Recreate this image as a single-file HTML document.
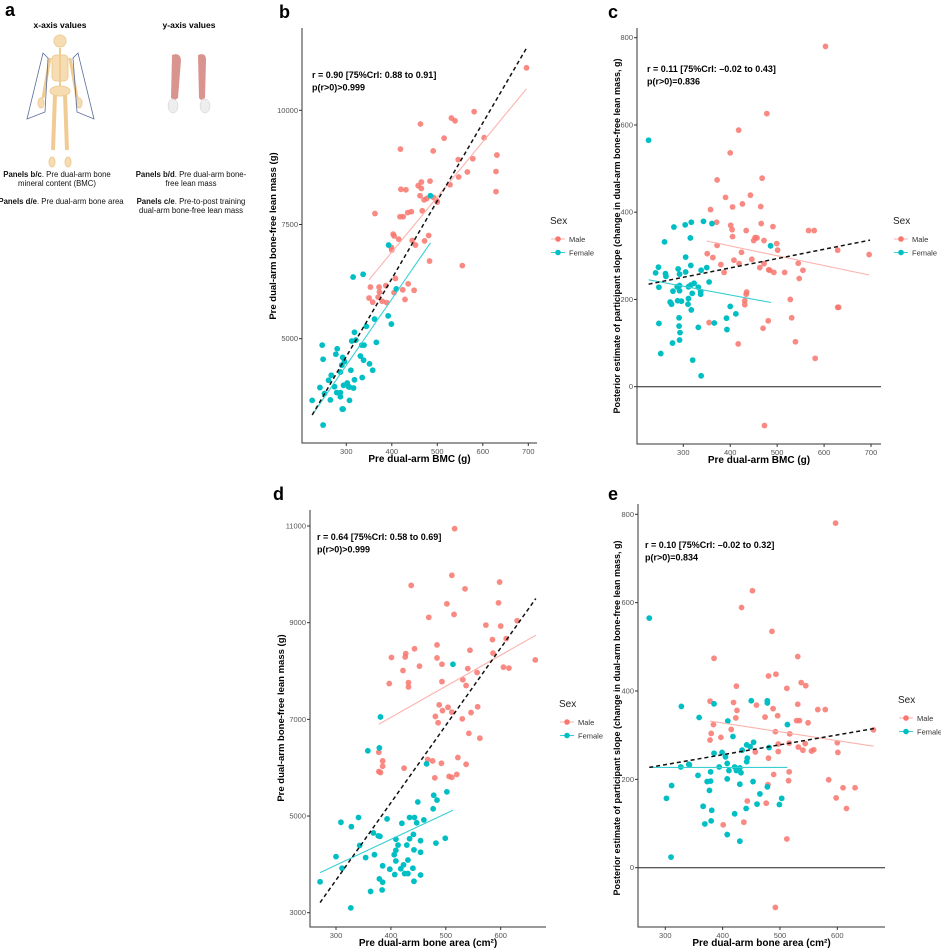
<!DOCTYPE html>
<html><head><meta charset="utf-8"><style>
body{margin:0;background:#fff;}
svg{display:block;font-family:"Liberation Sans",sans-serif;}
</style></head><body>
<svg id="fig" width="941" height="949" viewBox="0 0 941 949" xmlns="http://www.w3.org/2000/svg">
<g>
<text x="5" y="16" font-size="18" font-weight="bold">a</text>
<text x="60" y="28" font-size="8.5" font-weight="bold" text-anchor="middle">x-axis values</text>
<text x="189" y="28" font-size="8.5" font-weight="bold" text-anchor="middle">y-axis values</text>
<g stroke="#f0cc94" fill="#f5dcb2">
<circle cx="60" cy="41" r="6"/>
<rect x="52" y="55" width="16" height="26" rx="4"/>
<line x1="60" y1="48" x2="60" y2="90" stroke-width="2"/>
<ellipse cx="60" cy="91" rx="10" ry="5"/>
<line x1="50" y1="58" x2="43" y2="98" stroke-width="3"/>
<line x1="70" y1="58" x2="77" y2="98" stroke-width="3"/>
<line x1="55" y1="95" x2="53" y2="150" stroke-width="4"/>
<line x1="65" y1="95" x2="67" y2="150" stroke-width="4"/>
<ellipse cx="41" cy="103" rx="3" ry="5"/><ellipse cx="79" cy="103" rx="3" ry="5"/>
<ellipse cx="52" cy="162" rx="3" ry="5"/><ellipse cx="68" cy="162" rx="3" ry="5"/>
</g>
<polygon points="43,53 48,58 45,112 27,119" fill="none" stroke="#5b6c9a" stroke-width="0.8"/>
<polygon points="78,53 73,58 77,112 94,119" fill="none" stroke="#5b6c9a" stroke-width="0.8"/>
<g>
<path d="M172,55 Q180,52 181,60 L178,98 L175,100 L171,98 Z" fill="#d9948f"/>
<path d="M198,55 Q206,52 206,60 L205,98 L201,100 L199,98 Z" fill="#d9948f"/>
<ellipse cx="173" cy="106" rx="5" ry="7" fill="#eeeeee" stroke="#cccccc" stroke-width="0.5"/>
<ellipse cx="205" cy="106" rx="5" ry="7" fill="#eeeeee" stroke="#cccccc" stroke-width="0.5"/>
</g>
<g font-size="7.8" fill="#111" text-anchor="middle">
<text x="57" y="177"><tspan font-weight="bold">Panels b/c</tspan>. Pre dual-arm bone</text>
<text x="57" y="186">mineral content (BMC)</text>
<text x="61" y="204"><tspan font-weight="bold">Panels d/e</tspan>. Pre dual-arm bone area</text>
<text x="191" y="177"><tspan font-weight="bold">Panels b/d</tspan>. Pre dual-arm bone-</text>
<text x="191" y="186">free lean mass</text>
<text x="191" y="204"><tspan font-weight="bold">Panels c/e</tspan>. Pre-to-post training</text>
<text x="191" y="213">dual-arm bone-free lean mass</text>
</g>
</g>
</svg>
<script>
// ---------- Panel b data ----------
const bMale=[[696,10930],[581,9970],[531,9830],[539,9770],[463,9700],[515,9390],[603,9400],[419,9150],[491,9110],[546,8920],[578,8940],[631,9020],[566,8650],[547,8540],[629,8660],[629,8220],[528,8370],[420,8270],[431,8260],[458,8350],[465,8430],[484,8450],[465,8290],[462,8130],[471,8040],[477,8070],[492,8090],[500,7990],[499,8020],[363,7740],[418,7670],[425,7670],[435,7760],[443,7780],[467,7800],[403,7290],[405,7250],[415,7180],[445,7150],[452,7050],[472,7140],[481,7260],[399,7000],[400,6940],[483,6700],[555,6600],[408,6320],[353,6130],[372,6130],[387,6160],[436,6200],[373,6020],[405,6010],[424,6070],[449,6060],[350,5890],[370,5910],[358,5800],[379,5820],[389,5790],[429,5860]];
const bFemale=[[485,8130],[393,7050],[337,6410],[315,6350],[410,6090],[362,5430],[392,5500],[399,5320],[344,5270],[318,5140],[247,4860],[280,4780],[312,4950],[321,4970],[366,4920],[334,4860],[339,4860],[277,4660],[249,4550],[292,4590],[331,4620],[338,4530],[296,4500],[351,4450],[290,4420],[287,4270],[310,4310],[358,4310],[261,4090],[267,4200],[318,4100],[335,4150],[242,3930],[274,3950],[294,3980],[305,3950],[316,3920],[307,3940],[302,4030],[252,3800],[279,3820],[287,3820],[265,3660],[287,3730],[307,3650],[225,3650],[293,3460],[291,3460],[249,3110]];
const bMaleFit=[[350,6290],[696,10470]];
const bFemaleFit=[[225,3330],[485,7100]];
const bOverallFit=[[225,3330],[696,11360]];
const bXTicks=[300,400,500,600,700];
const bYTicks=[5000,7500,10000];
// ---------- Panel c data ----------
const cMale=[[603,780],[478,626],[418,588],[400,536],[468,478],[372,474],[390,434],[443,439],[426,419],[405,412],[465,413],[358,406],[371,377],[466,374],[401,370],[404,360],[434,358],[491,367],[567,358],[579,358],[405,344],[453,342],[457,341],[450,335],[472,335],[499,328],[372,324],[501,313],[629,313],[696,303],[351,305],[363,296],[408,290],[424,308],[446,292],[380,280],[419,282],[472,282],[545,283],[463,273],[482,268],[484,267],[555,267],[516,262],[387,262],[493,262],[547,248],[434,212],[435,217],[431,197],[431,188],[528,200],[629,182],[631,182],[531,158],[355,147],[481,151],[470,134],[539,103],[417,98],[581,65],[473,-89]];
const cFemale=[[226,565],[317,377],[343,379],[361,374],[304,371],[280,366],[260,332],[315,341],[486,323],[305,297],[316,278],[289,270],[350,273],[338,267],[247,274],[241,261],[262,259],[263,253],[292,258],[305,263],[355,240],[323,237],[316,233],[287,229],[292,232],[311,229],[332,228],[248,228],[292,220],[337,218],[278,219],[337,212],[319,214],[272,194],[275,189],[288,197],[296,196],[310,189],[311,202],[317,176],[400,184],[412,167],[392,157],[291,158],[248,145],[366,146],[291,139],[293,124],[332,136],[393,131],[277,100],[292,107],[252,76],[320,61],[338,25]];
const cMaleFit=[[350,334],[696,256]];
const cFemaleFit=[[226,245],[487,193]];
const cOverallFit=[[226,235],[698,336]];
const cXTicks=[300,400,500,600,700];
const cYTicks=[0,200,400,600,800];
// ---------- Panel d data ----------
const dMale=[[516,10945],[511,9980],[598,9840],[437,9770],[535,9700],[502,9390],[596,9410],[515,9170],[469,9110],[573,8950],[600,8930],[630,9040],[443,8460],[484,8540],[544,8430],[585,8650],[610,8670],[586,8370],[401,8280],[427,8360],[426,8290],[484,8270],[493,8140],[452,8100],[422,8010],[540,8050],[557,7970],[605,8080],[615,8060],[663,8230],[397,7740],[432,7760],[432,7670],[493,7780],[531,7820],[537,7700],[488,7300],[504,7250],[494,7180],[511,7150],[558,7260],[546,7140],[481,7060],[486,6930],[530,7010],[542,6710],[562,6610],[378,6320],[385,6140],[385,6030],[378,5920],[381,5900],[424,5990],[467,6170],[476,6140],[492,6090],[522,6210],[537,6070],[480,5790],[506,5820],[511,5800],[520,5860]];
const dFemale=[[513,8140],[381,7050],[358,6350],[379,6410],[465,6080],[478,5430],[502,5500],[484,5330],[449,5290],[477,5150],[341,4970],[393,4940],[434,4970],[443,4970],[460,4920],[420,4850],[447,4860],[309,4870],[328,4780],[368,4650],[377,4590],[380,4580],[409,4520],[434,4530],[441,4620],[499,4540],[482,4440],[343,4390],[413,4400],[429,4400],[454,4490],[409,4290],[442,4300],[454,4250],[300,4160],[354,4140],[370,4200],[406,4200],[431,4090],[311,3920],[385,3970],[409,4070],[423,3990],[398,3900],[418,3910],[440,3920],[407,3790],[425,3810],[431,3810],[454,3780],[379,3700],[385,3630],[442,3650],[271,3640],[363,3440],[384,3470],[327,3100]];
const dMaleFit=[[378,6900],[664,8740]];
const dFemaleFit=[[271,3830],[513,5120]];
const dOverallFit=[[271,3210],[664,9500]];
const dXTicks=[300,400,500,600];
const dYTicks=[3000,5000,7000,9000,11000];
// ---------- Panel e data ----------
const eMale=[[597,780],[452,627],[433,589],[486,535],[531,478],[385,474],[480,434],[493,438],[537,419],[545,412],[424,411],[512,406],[378,377],[419,374],[459,368],[425,356],[488,360],[531,370],[566,358],[579,358],[496,344],[474,341],[423,339],[529,333],[534,333],[549,328],[384,324],[415,313],[380,304],[492,308],[517,303],[663,312],[378,289],[397,295],[600,283],[497,280],[516,282],[544,281],[532,273],[540,266],[555,264],[559,267],[601,261],[457,262],[497,263],[480,248],[489,211],[516,217],[515,197],[479,188],[585,199],[610,181],[631,181],[598,158],[616,134],[443,151],[476,146],[437,103],[401,97],[512,65],[492,-90]];
const eFemale=[[272,565],[328,365],[359,340],[450,378],[478,378],[478,373],[385,371],[409,332],[513,324],[418,297],[454,284],[442,278],[434,266],[448,274],[481,272],[385,259],[399,261],[405,251],[443,248],[442,240],[408,236],[342,233],[341,234],[327,228],[394,228],[421,228],[430,226],[411,220],[424,220],[432,215],[379,217],[357,209],[373,195],[379,196],[453,195],[408,201],[377,175],[430,189],[478,183],[311,186],[302,157],[465,167],[503,157],[366,139],[381,130],[421,122],[441,134],[460,144],[499,143],[369,99],[380,106],[408,75],[430,60],[310,24]];
const eMaleFit=[[378,332],[663,275]];
const eFemaleFit=[[272,227],[513,227]];
const eOverallFit=[[272,227],[664,315]];
const eXTicks=[300,400,500,600];
const eYTicks=[0,200,400,600,800];

const NS='http://www.w3.org/2000/svg';
const svg=document.getElementById('fig');
function mk(tag,attrs,parent){const e=document.createElementNS(NS,tag);for(const k in attrs)e.setAttribute(k,attrs[k]);(parent||svg).appendChild(e);return e;}

function panel(cfg){
  const g=mk('g',{});
  
  
  const sx=v=>cfg.x0p+(v-cfg.x0)*(cfg.x1p-cfg.x0p)/(cfg.x1-cfg.x0);
  const sy=v=>cfg.y0p+(v-cfg.y0)*(cfg.y1p-cfg.y0p)/(cfg.y1-cfg.y0);
  const lab=mk('text',{x:cfg.labX,y:cfg.labY,'font-size':18,'font-weight':'bold'},g);lab.textContent=cfg.id;
  
  
  if(cfg.zero){const z=mk('line',{x1:cfg.L,x2:cfg.R,y1:sy(0),y2:sy(0),stroke:'#222','stroke-width':1},g);
    
    }
  const ax=mk('path',{d:`M${cfg.L},${cfg.T}V${cfg.B}H${cfg.R}`,fill:'none',stroke:'#333','stroke-width':1},g);
  
  
  cfg.xt.forEach(v=>{mk('line',{x1:sx(v),x2:sx(v),y1:cfg.B,y2:cfg.B+3,stroke:'#333'},g);
    const t=mk('text',{x:sx(v),y:cfg.B+11,'font-size':7.5,fill:'#555','text-anchor':'middle'},g);t.textContent=v;
    
    });
  cfg.yt.forEach(v=>{mk('line',{x1:cfg.L-3,x2:cfg.L,y1:sy(v),y2:sy(v),stroke:'#333'},g);
    const t=mk('text',{x:cfg.L-4,y:sy(v)+2.5,'font-size':7.5,fill:'#555','text-anchor':'end'},g);t.textContent=v;
    
    });
  cfg.male.forEach(p=>{const c=mk('circle',{cx:sx(p[0]),cy:sy(p[1]),r:2.9,fill:'#F8766D','fill-opacity':0.85},g);
    
    });
  cfg.female.forEach(p=>{const c=mk('circle',{cx:sx(p[0]),cy:sy(p[1]),r:2.9,fill:'#00BFC4'},g);
    
    });
  const fl=(f,col,dash,w,name)=>{const l=mk('line',{x1:sx(f[0][0]),y1:sy(f[0][1]),x2:sx(f[1][0]),y2:sy(f[1][1]),stroke:col,'stroke-width':w},g);
    if(dash)l.setAttribute('stroke-dasharray',dash);
    
    };
  fl(cfg.mf,'#FBB3AD',null,1.1,'male-fit-line');
  fl(cfg.ff,'#3ACFD3',null,1.1,'female-fit-line');
  fl(cfg.of,'#111','4,3',1.5,'overall-fit-line');
  const a1=mk('text',{x:cfg.annX,y:cfg.annY,'font-size':9,'font-weight':'bold'},g);a1.textContent=cfg.ann1;
  
  
  const a2=mk('text',{x:cfg.annX,y:cfg.annY+12.5,'font-size':9,'font-weight':'bold'},g);a2.textContent=cfg.ann2;
  
  
  const xt=mk('text',{x:(cfg.L+cfg.R)/2,y:cfg.B+19,'font-size':10,'font-weight':'bold','text-anchor':'middle'},g);xt.textContent=cfg.xtitle;
  
  
  const yt=mk('text',{x:0,y:0,'font-size':cfg.ytfs,'font-weight':'bold','text-anchor':'middle',transform:`translate(${cfg.ytx},${cfg.yty}) rotate(-90)`},g);yt.textContent=cfg.ytitle;
  
  
  const lg=mk('g',{},g);
  
  
  const st=mk('text',{x:cfg.lgX,y:cfg.lgY,'font-size':10,fill:'#222'},lg);st.textContent='Sex';
  [['Male','#F8766D','#FBB3AD'],['Female','#00BFC4','#3ACFD3']].forEach((s,i)=>{
    const yy=cfg.lgY+15+i*13.5;
    mk('line',{x1:cfg.lgX+1,x2:cfg.lgX+15,y1:yy,y2:yy,stroke:s[2],'stroke-width':1},lg);
    mk('circle',{cx:cfg.lgX+8,cy:yy,r:2.8,fill:s[1]},lg);
    const t=mk('text',{x:cfg.lgX+19,y:yy+3,'font-size':7.5,fill:'#333'},lg);t.textContent=s[0];
    
    
  });
}
const yLean='Pre dual-arm bone-free lean mass (g)';
const ySlope='Posterior estimate of participant slope (change in dual-arm bone-free lean mass, g)';
panel({id:'b',L:302,R:537,T:28,B:443,x0:300,x1:700,x0p:346.3,x1p:528.3,y0:5000,y1:10000,y0p:338.7,y1p:110.3,xt:bXTicks,yt:bYTicks,male:bMale,female:bFemale,mf:bMaleFit,ff:bFemaleFit,of:bOverallFit,labX:279,labY:18,annX:312,annY:78,ann1:'r = 0.90 [75%CrI: 0.88 to 0.91]',ann2:'p(r>0)>0.999',xtitle:'Pre dual-arm BMC (g)',ytitle:yLean,ytfs:9.5,ytx:276,yty:236,lgX:550,lgY:224});
panel({id:'c',L:637,R:881,T:28,B:444,x0:300,x1:700,x0p:683.3,x1p:871,y0:0,y1:800,y0p:386.7,y1p:37.7,xt:cXTicks,yt:cYTicks,male:cMale,female:cFemale,mf:cMaleFit,ff:cFemaleFit,of:cOverallFit,zero:true,labX:608,labY:18,annX:647,annY:72,ann1:'r = 0.11 [75%CrI: \u20130.02 to 0.43]',ann2:'p(r>0)=0.836',xtitle:'Pre dual-arm BMC (g)',ytitle:ySlope,ytfs:9,ytx:620,yty:236,lgX:893,lgY:224});
panel({id:'d',L:310,R:546,T:510,B:927,x0:300,x1:600,x0p:336,x1p:500.7,y0:3000,y1:11000,y0p:912.7,y1p:526,xt:dXTicks,yt:dYTicks,male:dMale,female:dFemale,mf:dMaleFit,ff:dFemaleFit,of:dOverallFit,labX:273,labY:500,annX:317,annY:540,ann1:'r = 0.64 [75%CrI: 0.58 to 0.69]',ann2:'p(r>0)>0.999',xtitle:'Pre dual-arm bone area (cm\u00b2)',ytitle:yLean,ytfs:9.5,ytx:284,yty:718,lgX:559,lgY:707});
panel({id:'e',L:638,R:885,T:504,B:927,x0:300,x1:600,x0p:665.3,x1p:837.3,y0:0,y1:800,y0p:867.7,y1p:514.3,xt:eXTicks,yt:eYTicks,male:eMale,female:eFemale,mf:eMaleFit,ff:eFemaleFit,of:eOverallFit,zero:true,labX:608,labY:500,annX:645,annY:548,ann1:'r = 0.10 [75%CrI: \u20130.02 to 0.32]',ann2:'p(r>0)=0.834',xtitle:'Pre dual-arm bone area (cm\u00b2)',ytitle:ySlope,ytfs:9,ytx:620,yty:718,lgX:898,lgY:703});
</script>
</body></html>
